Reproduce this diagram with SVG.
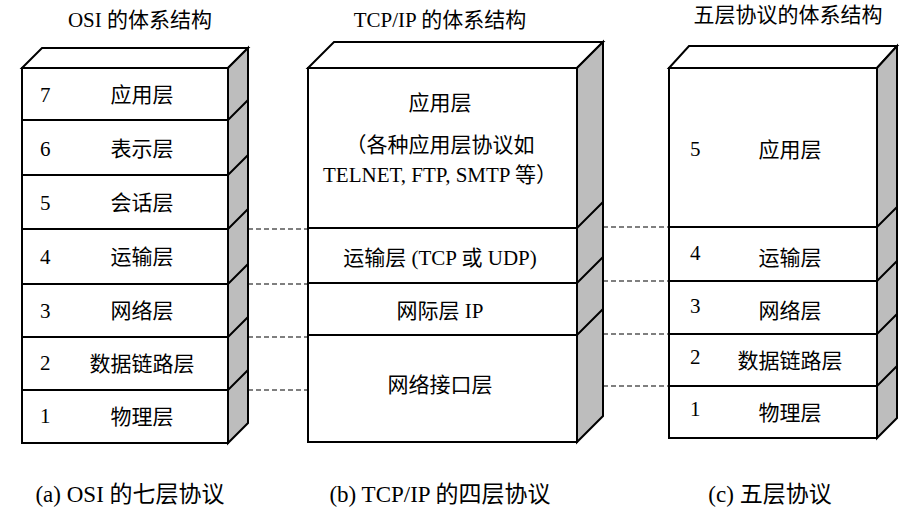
<svg xmlns="http://www.w3.org/2000/svg" width="913" height="513" viewBox="0 0 913 513">
<style>
.f{fill:#fff;stroke:#000;stroke-width:2}
.s{fill:#bdbdbd;stroke:#000;stroke-width:2}
.l{stroke:#000;stroke-width:2;fill:none}
.d{stroke:#000;stroke-width:1.2;stroke-dasharray:5,3;fill:none}
text{font-family:"Liberation Serif","Noto Sans CJK SC",serif;font-size:21px;fill:#000}
.c{text-anchor:middle}
.t{font-size:21px}
.cap{font-size:23px}
</style>
<rect width="913" height="513" fill="#fff"/>
<g id="osi">
<polygon class="f" points="22,68 42,48 248,48 228,68"/>
<polygon class="s" points="228,68 248,48 248,423 228,443"/>
<rect class="f" x="22" y="68" width="206" height="375"/>
<path class="l" d="M22,120H228L248,100M22,175H228L248,155M22,229H228L248,209M22,284H228L248,264M22,337H228L248,317M22,390H228L248,370"/>
<text x="40" y="102">7</text><text class="c" x="142" y="102">应用层</text>
<text x="40" y="156">6</text><text class="c" x="142" y="156">表示层</text>
<text x="40" y="210">5</text><text class="c" x="142" y="210">会话层</text>
<text x="40" y="264">4</text><text class="c" x="142" y="264">运输层</text>
<text x="40" y="318">3</text><text class="c" x="142" y="318">网络层</text>
<text x="40" y="370">2</text><text class="c" x="142" y="371">数据链路层</text>
<text x="40" y="423">1</text><text class="c" x="142" y="424">物理层</text>
<text class="c t" x="140" y="27">OSI 的体系结构</text>
</g>
<g id="tcpip">
<polygon class="f" points="308,68 334,42 603,42 577,68"/>
<polygon class="s" points="577,68 603,42 603,416 577,442"/>
<rect class="f" x="308" y="68" width="269" height="374"/>
<path class="l" d="M308,228H577L603,202M308,283H577L603,257M308,335H577L603,309"/>
<text class="c" x="440" y="110">应用层</text>
<text class="c" x="440" y="152">（各种应用层协议如</text>
<text class="c" x="440" y="182">TELNET, FTP, SMTP 等）</text>
<text class="c" x="440" y="265">运输层 (TCP 或 UDP)</text>
<text class="c" x="440" y="318">网际层 IP</text>
<text class="c" x="440" y="392">网络接口层</text>
<text class="c t" x="440" y="27">TCP/IP 的体系结构</text>
</g>
<g id="five">
<polygon class="f" points="669,68 689,46 897,46 877,68"/>
<polygon class="s" points="877,68 897,46 897,418 877,438"/>
<rect class="f" x="669" y="68" width="208" height="370"/>
<path class="l" d="M669,227H877L897,207M669,281H877L897,261M669,334H877L897,314M669,386H877L897,366"/>
<text x="690" y="156">5</text><text class="c" x="790" y="157">应用层</text>
<text x="690" y="260">4</text><text class="c" x="790" y="265">运输层</text>
<text x="690" y="313">3</text><text class="c" x="790" y="318">网络层</text>
<text x="690" y="364">2</text><text class="c" x="790" y="368">数据链路层</text>
<text x="690" y="416">1</text><text class="c" x="790" y="420">物理层</text>
<text class="c t" x="788" y="22">五层协议的体系结构</text>
</g>
<g id="connectors">
<path class="d" d="M248,229H308M248,284H308M248,337H308M248,390H308"/>
<path class="d" d="M603,227H669M603,281H669M603,334H669M603,386H669"/>
</g>
<g id="captions">
<text class="c cap" x="130" y="502">(a) OSI 的七层协议</text>
<text class="c cap" x="440" y="502">(b) TCP/IP 的四层协议</text>
<text class="c cap" x="770" y="502">(c)  五层协议</text>
</g>
</svg>
